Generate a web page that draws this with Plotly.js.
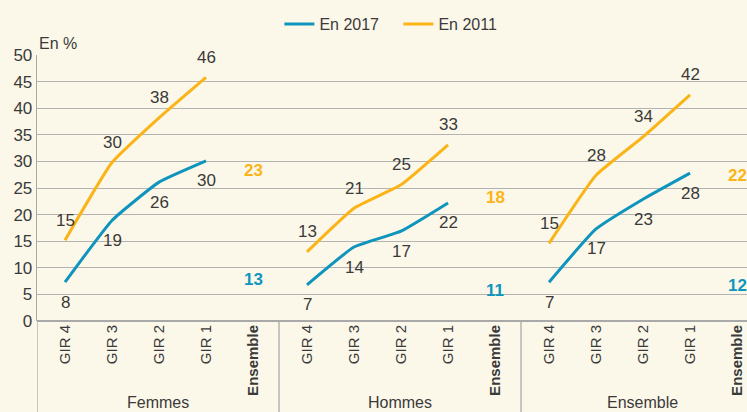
<!DOCTYPE html>
<html>
<head>
<meta charset="utf-8">
<script src="https://cdn.plot.ly/plotly-3.0.1.min.js"></script>
<style>html,body{margin:0;padding:0;background:#fcf8e9;}#chart{width:747px;height:412px;}</style>
</head>
<body>
<div id="chart"></div>
<script>
// ---- data ----
const groups = ['Femmes', 'Hommes', 'Ensemble'];
const categories = ['GIR 4', 'GIR 3', 'GIR 2', 'GIR 1', 'Ensemble'];
const girCats = ['GIR 4', 'GIR 3', 'GIR 2', 'GIR 1'];

const femmes2017 = [7.3, 18.9, 26.1, 30.1];
const femmes2011 = [15.2, 29.8, 38.2, 45.8];
const hommes2017 = [6.8, 13.9, 16.9, 22.2];
const hommes2011 = [13.0, 21.2, 25.6, 33.1];
const ensemble2017 = [7.3, 17.3, 22.9, 27.8];
const ensemble2011 = [14.6, 27.4, 34.6, 42.5];

const femmesLabels2017 = ['8', '19', '26', '30'];
const femmesLabels2011 = ['15', '30', '38', '46'];
const hommesLabels2017 = ['7', '14', '17', '22'];
const hommesLabels2011 = ['13', '21', '25', '33'];
const ensembleLabels2017 = ['7', '17', '23', '28'];
const ensembleLabels2011 = ['15', '28', '34', '42'];

const overall2017 = [13, 11, 12];
const overall2011 = [23, 18, 22];

const yTicks = [0, 5, 10, 15, 20, 25, 30, 35, 40, 45, 50];

// ---- styling / layout helpers ----
const BLUE = '#0f95bd';
const ORANGE = '#fbb417';
const TXT = '#3a3a3a';
const FONT = '"Liberation Sans", Arial, sans-serif';
const GROUP_W = 5.149, PAD = 0.596, XMAX = 15.106;
const xpos = (g, i) => g * GROUP_W + PAD + i;

const series2017 = [femmes2017, hommes2017, ensemble2017];
const series2011 = [femmes2011, hommes2011, ensemble2011];
const labels2017 = [femmesLabels2017, hommesLabels2017, ensembleLabels2017];
const labels2011 = [femmesLabels2011, hommesLabels2011, ensembleLabels2011];

const traces = [];
groups.forEach((g, gi) => {
  const xs = girCats.map((c, i) => xpos(gi, i));
  traces.push({x: xs, y: series2017[gi], type: 'scatter', mode: 'lines', name: 'En 2017',
    legendgroup: '2017', showlegend: gi === 0, hoverinfo: 'skip',
    line: {color: BLUE, width: 3, shape: 'spline', smoothing: 0.4}});
});
groups.forEach((g, gi) => {
  const xs = girCats.map((c, i) => xpos(gi, i));
  traces.push({x: xs, y: series2011[gi], type: 'scatter', mode: 'lines', name: 'En 2011',
    legendgroup: '2011', showlegend: gi === 0, hoverinfo: 'skip',
    line: {color: ORANGE, width: 3, shape: 'spline', smoothing: 0.4}});
});

const annotations = [];
groups.forEach((g, gi) => {
  girCats.forEach((c, i) => {
    annotations.push({x: xpos(gi, i), y: series2011[gi][i], text: labels2011[gi][i], showarrow: false,
      yshift: 20, font: {family: FONT, size: 17, color: TXT}});
    annotations.push({x: xpos(gi, i), y: series2017[gi][i], text: labels2017[gi][i], showarrow: false,
      yshift: -20, font: {family: FONT, size: 17, color: TXT}});
  });
  annotations.push({x: xpos(gi, 4), y: overall2011[gi], text: '<b>' + overall2011[gi] + '</b>', showarrow: false,
    yshift: 28, font: {family: FONT, size: 17, color: ORANGE}});
  annotations.push({x: xpos(gi, 4), y: overall2017[gi], text: '<b>' + overall2017[gi] + '</b>', showarrow: false,
    yshift: -28, font: {family: FONT, size: 17, color: BLUE}});
  annotations.push({x: gi * GROUP_W + GROUP_W / 2, xref: 'x', y: -0.306, yref: 'paper', yanchor: 'middle',
    text: g, showarrow: false, font: {family: FONT, size: 16, color: TXT}});
});
annotations.push({x: 0, xref: 'paper', xanchor: 'left', y: 1.045, yref: 'paper', yanchor: 'middle',
  text: 'En %', showarrow: false, font: {family: FONT, size: 16, color: TXT}});

const tickvals = [], ticktext = [];
groups.forEach((g, gi) => {
  categories.forEach((c, i) => {
    tickvals.push(xpos(gi, i));
    ticktext.push(c === 'Ensemble' ? '<b>' + c + '</b>' : c);
  });
});

const shapes = [];
for (let gi = 0; gi <= groups.length; gi++) {
  shapes.push({type: 'line', xref: 'x', yref: 'paper', x0: gi * GROUP_W, x1: gi * GROUP_W,
    y0: 0, y1: -0.4, line: {color: '#a9a9a9', width: 1.3}});
}

const layout = {
  width: 747, height: 412,
  margin: {l: 37, r: 0, t: 55, b: 91},
  paper_bgcolor: '#fcf8e9', plot_bgcolor: '#fcf8e9',
  font: {family: FONT, color: TXT, size: 17},
  showlegend: true,
  legend: {orientation: 'h', x: 0.509, xanchor: 'center', y: 1.1165, yanchor: 'middle',
    entrywidth: 74, entrywidthmode: 'pixels',
    font: {family: FONT, size: 16, color: TXT}, bgcolor: 'rgba(0,0,0,0)', traceorder: 'normal'},
  xaxis: {range: [0, XMAX], tickvals: tickvals, ticktext: ticktext, tickangle: -90,
    showgrid: false, zeroline: false, showline: false, ticks: '',
    tickfont: {family: FONT, size: 15, color: TXT}, fixedrange: true},
  yaxis: {range: [0, 50], tickvals: yTicks, showgrid: true, gridcolor: '#b3b3b3', gridwidth: 1,
    zeroline: true, zerolinecolor: '#a9a9a9', zerolinewidth: 1.3, showline: true, linecolor: '#a9a9a9', linewidth: 1.3,
    ticks: '', tickfont: {family: FONT, size: 17, color: TXT}, fixedrange: true},
  annotations: annotations,
  shapes: shapes
};

Plotly.newPlot('chart', traces, layout, {displayModeBar: false, staticPlot: true});
</script>
</body>
</html>
